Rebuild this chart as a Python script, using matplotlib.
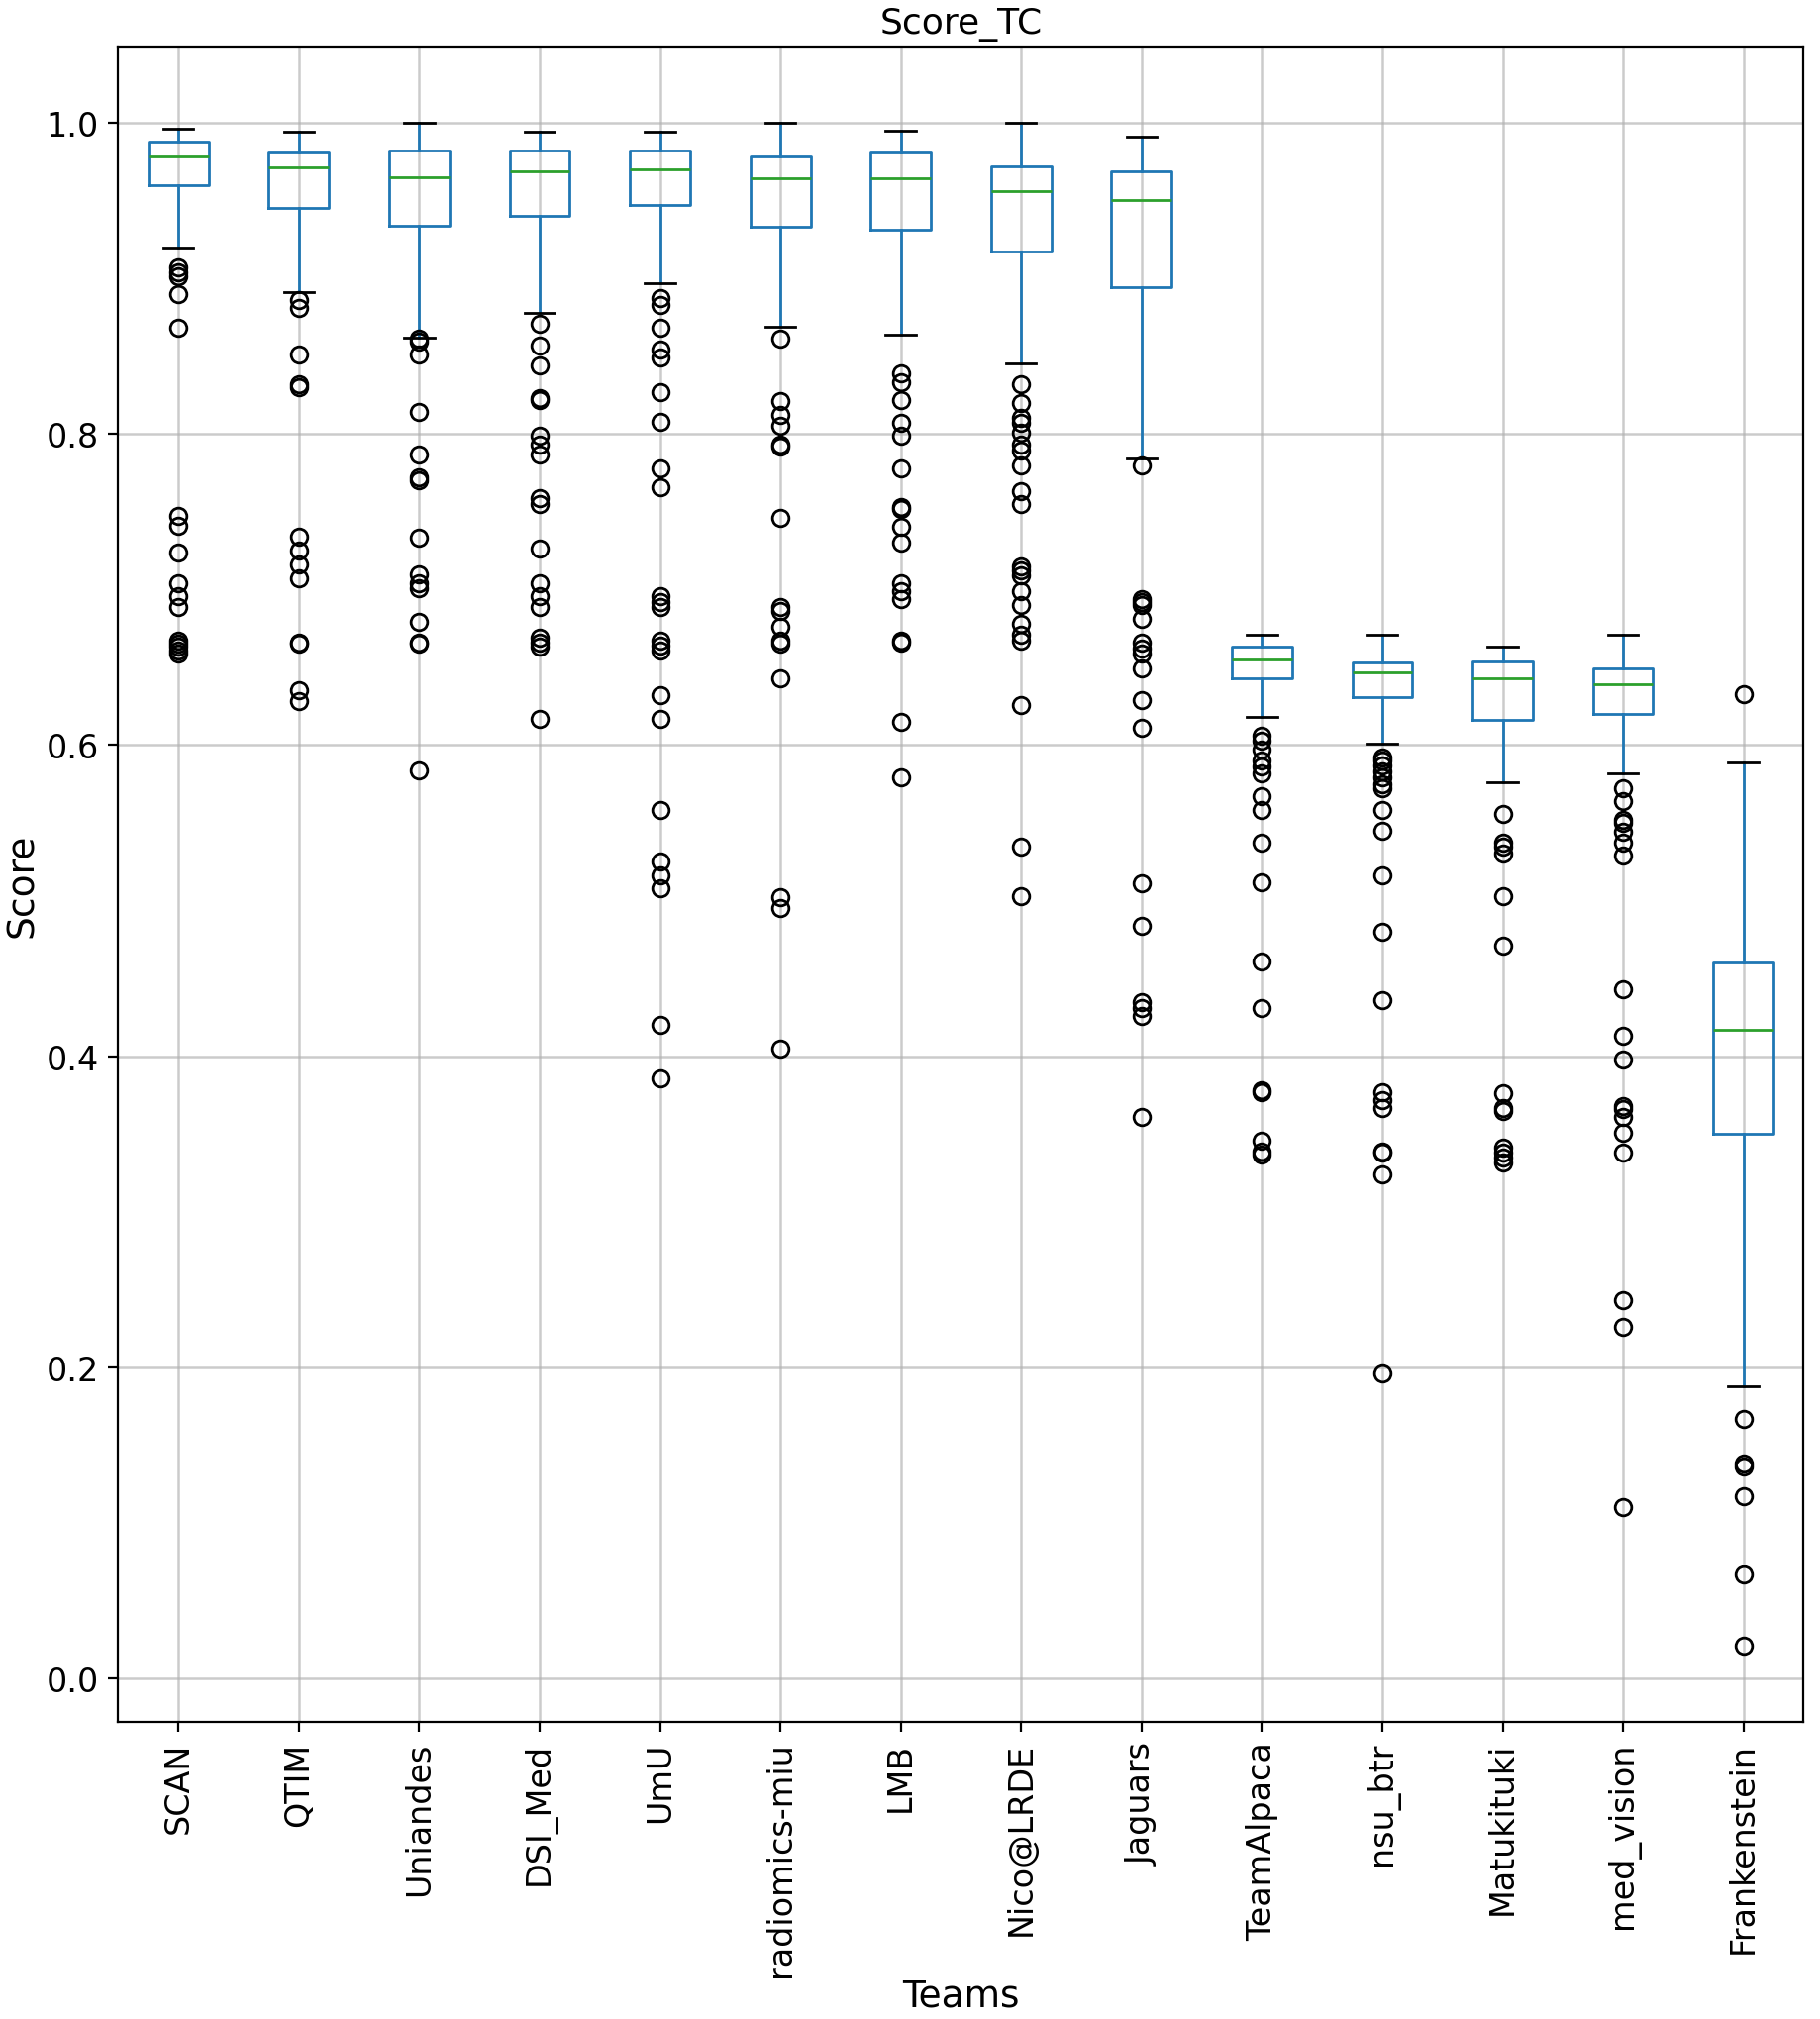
import matplotlib
matplotlib.use("Agg")
import matplotlib.pyplot as plt

teams = ["SCAN", "QTIM", "Uniandes", "DSI_Med", "UmU", "radiomics-miu", "LMB",
         "Nico@LRDE", "Jaguars", "TeamAlpaca", "nsu_btr", "Matukituki",
         "med_vision", "Frankenstein"]

medians = [0.978, 0.971, 0.965, 0.969, 0.970, 0.964, 0.964, 0.956, 0.950, 0.655, 0.647, 0.643, 0.639, 0.417]
q1 = [0.960, 0.945, 0.934, 0.940, 0.947, 0.933, 0.931, 0.917, 0.894, 0.643, 0.631, 0.616, 0.620, 0.350]
q3 = [0.988, 0.981, 0.982, 0.982, 0.982, 0.978, 0.981, 0.972, 0.969, 0.663, 0.653, 0.654, 0.649, 0.460]
whislo = [0.920, 0.891, 0.862, 0.878, 0.897, 0.869, 0.864, 0.845, 0.784, 0.618, 0.601, 0.576, 0.582, 0.188]
whishi = [0.996, 0.994, 1.000, 0.994, 0.994, 1.000, 0.995, 1.000, 0.991, 0.671, 0.671, 0.663, 0.671, 0.589]

fliers_scan = [0.907, 0.904, 0.901, 0.890, 0.868, 0.747, 0.741, 0.724, 0.704, 0.696, 0.689,
               0.667, 0.665, 0.663, 0.661, 0.659]
fliers_qtim = [0.886, 0.881, 0.851, 0.832, 0.830, 0.734, 0.725, 0.716, 0.707, 0.666, 0.665,
               0.635, 0.628]
fliers_uniandes = [0.861, 0.859, 0.851, 0.814, 0.787, 0.772, 0.770, 0.733, 0.710, 0.704, 0.701,
                   0.679, 0.666, 0.665, 0.584]
fliers_dsi = [0.871, 0.857, 0.844, 0.823, 0.822, 0.799, 0.793, 0.787, 0.759, 0.755, 0.726,
              0.704, 0.696, 0.689, 0.669, 0.666, 0.663, 0.617]
fliers_umu = [0.887, 0.883, 0.868, 0.854, 0.849, 0.827, 0.808, 0.778, 0.766, 0.696, 0.692,
              0.689, 0.667, 0.664, 0.661, 0.632, 0.617, 0.558, 0.525, 0.516, 0.508, 0.420, 0.386]
fliers_radiomics = [0.861, 0.821, 0.812, 0.805, 0.793, 0.792, 0.746, 0.689, 0.686, 0.676,
                    0.667, 0.665, 0.643, 0.502, 0.495, 0.405]
fliers_lmb = [0.839, 0.833, 0.822, 0.807, 0.799, 0.778, 0.753, 0.752, 0.740, 0.730, 0.704,
              0.699, 0.694, 0.667, 0.666, 0.615, 0.579]
fliers_nico = [0.832, 0.820, 0.810, 0.807, 0.801, 0.793, 0.789, 0.780, 0.763, 0.755, 0.715,
               0.712, 0.709, 0.699, 0.690, 0.678, 0.671, 0.667, 0.626, 0.535, 0.503]
fliers_jaguars = [0.780, 0.694, 0.692, 0.690, 0.681, 0.666, 0.662, 0.659, 0.649, 0.629, 0.611,
                  0.511, 0.484, 0.435, 0.431, 0.426, 0.361]
fliers_alpaca = [0.606, 0.603, 0.597, 0.590, 0.586, 0.582, 0.567, 0.558, 0.537, 0.512, 0.461,
                 0.431, 0.378, 0.377, 0.346, 0.339, 0.337]
fliers_nsu = [0.592, 0.590, 0.587, 0.583, 0.579, 0.575, 0.572, 0.558, 0.545, 0.516, 0.480,
              0.436, 0.377, 0.372, 0.367, 0.339, 0.338, 0.324, 0.196]
fliers_matukituki = [0.556, 0.537, 0.535, 0.530, 0.503, 0.471, 0.376, 0.367, 0.365, 0.341,
                     0.338, 0.335, 0.332]
fliers_medvision = [0.572, 0.564, 0.552, 0.550, 0.544, 0.537, 0.529, 0.443, 0.413, 0.398,
                    0.368, 0.366, 0.361, 0.351, 0.338, 0.243, 0.226, 0.110]
fliers_frank = [0.633, 0.167, 0.138, 0.136, 0.117, 0.067, 0.021]

fliers = [fliers_scan, fliers_qtim, fliers_uniandes, fliers_dsi, fliers_umu, fliers_radiomics,
          fliers_lmb, fliers_nico, fliers_jaguars, fliers_alpaca, fliers_nsu,
          fliers_matukituki, fliers_medvision, fliers_frank]

stats = []
for i, t in enumerate(teams):
    stats.append(dict(label=t, med=medians[i], q1=q1[i], q3=q3[i],
                      whislo=whislo[i], whishi=whishi[i], fliers=fliers[i]))

plt.rcParams['font.family'] = ['DejaVu Sans']
plt.rcParams['font.size'] = 12

fig = plt.figure(figsize=(9.19, 10.2), dpi=200)
ax = fig.add_axes([0.065, 0.147, 0.926, 0.8295])

ax.bxp(stats,
       boxprops=dict(color='#1f77b4'),
       whiskerprops=dict(color='#1f77b4'),
       medianprops=dict(color='#2ca02c'),
       capprops=dict(color='k'),
       flierprops=dict(marker='o', markeredgecolor='k', markerfacecolor='none'))

ax.grid(True, color='#b0b0b0', linewidth=0.9, alpha=0.65)
ax.set_axisbelow(True)
ax.set_title("Score_TC", fontsize=13, pad=5)
ax.set_xlabel("Teams", fontsize=13.5, labelpad=0.5)
ax.set_ylabel("Score", fontsize=13.5, labelpad=2)
ax.tick_params(axis='x', labelrotation=90, labelsize=12)
ax.tick_params(axis='y', labelsize=12)

fig.savefig("out.png", dpi=200)
